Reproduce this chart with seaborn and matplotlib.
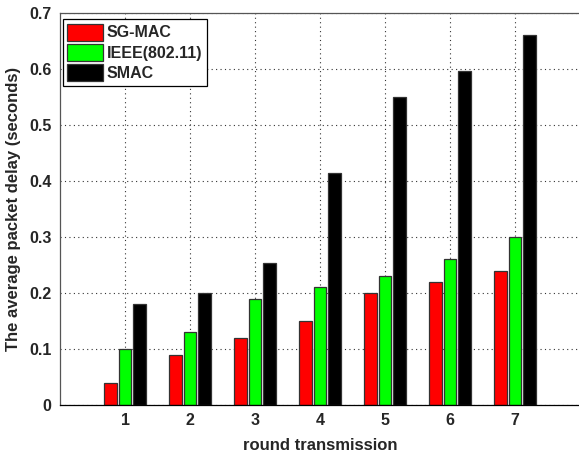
import matplotlib
matplotlib.use("Agg")
import matplotlib.pyplot as plt
import seaborn as sns
import pandas as pd

rounds = [1, 2, 3, 4, 5, 6, 7]
series_names = ["SG-MAC", "IEEE(802.11)", "SMAC"]
sg_mac = [0.04, 0.09, 0.12, 0.15, 0.20, 0.22, 0.24]
ieee = [0.10, 0.13, 0.19, 0.21, 0.23, 0.26, 0.30]
smac = [0.18, 0.20, 0.254, 0.414, 0.55, 0.596, 0.66]
colors = ["#ff0000", "#00ff00", "#000000"]
yticks = [0, 0.1, 0.2, 0.3, 0.4, 0.5, 0.6, 0.7]

df = pd.DataFrame({
    "round": rounds * 3,
    "delay": sg_mac + ieee + smac,
    "protocol": [series_names[0]] * 7 + [series_names[1]] * 7 + [series_names[2]] * 7,
})

sns.set_style("white")
plt.rcParams["font.family"] = ["Liberation Sans", "DejaVu Sans"]
plt.rcParams["font.weight"] = "bold"

fig = plt.figure(figsize=(5.79, 4.55), dpi=100)
ax = fig.add_axes([60 / 579, 50 / 455, 520 / 579, 392 / 455])

sns.barplot(data=df, x="round", y="delay", hue="protocol", hue_order=series_names,
            palette=colors, native_scale=True, width=0.67, gap=0.17,
            edgecolor="#333333", linewidth=0.9, saturation=1, errorbar=None, ax=ax)

ax.set_xlim(0, 8)
ax.set_ylim(0, 0.7)
ax.set_xticks(rounds)
ax.set_xticklabels([str(r) for r in rounds], fontsize=11.5, fontweight="bold")
ax.set_yticks(yticks)
ax.set_yticklabels(["0"] + [f"{v:.1f}" for v in yticks[1:]], fontsize=11.5, fontweight="bold")
ax.tick_params(direction="in", length=4, color="#555555", pad=6)
ax.grid(True, linestyle=(0, (1, 3)), color="#333333", linewidth=0.8)
ax.set_axisbelow(True)
for s in ax.spines.values():
    s.set_visible(True)
    s.set_color("#555555")
    s.set_linewidth(0.9)
ax.spines["bottom"].set_color("#000000")

ax.set_xlabel("round transmission", fontsize=12, fontweight="bold", labelpad=7)
ax.set_ylabel("The average packet delay (seconds)", fontsize=12, fontweight="bold", labelpad=6)

leg = ax.legend(loc="upper left", bbox_to_anchor=(0.005, 0.985), borderaxespad=0,
                handlelength=2.2, handleheight=1.25, handletextpad=0.25,
                labelspacing=0.2, borderpad=0.3, fancybox=False, framealpha=1,
                edgecolor="#000000", title=None, prop={"weight": "bold", "size": 11.5})
leg.get_frame().set_linewidth(0.9)

fig.savefig("out.png", dpi=100)
